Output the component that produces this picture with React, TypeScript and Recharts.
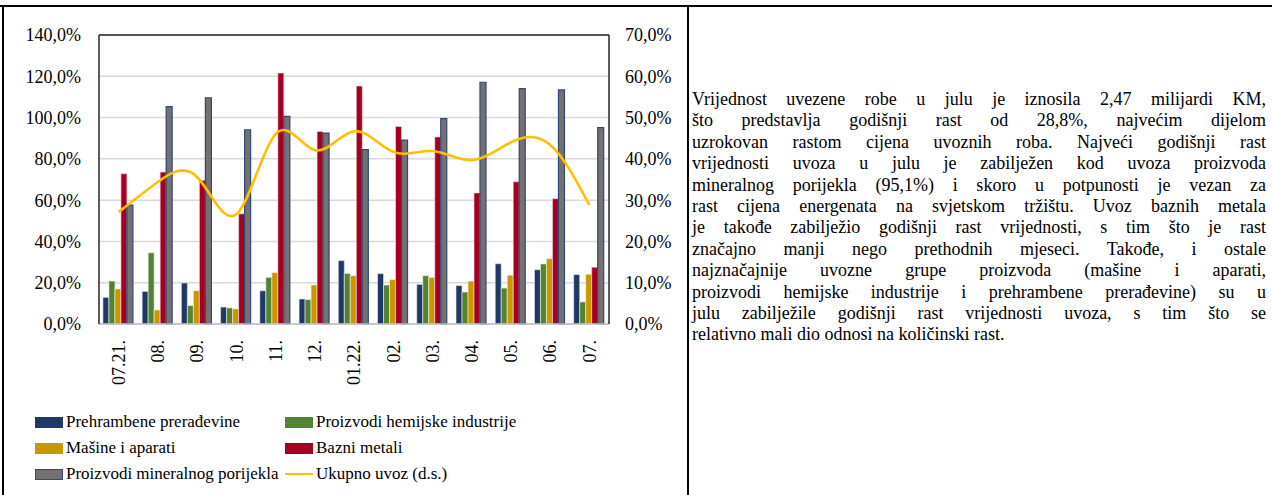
import React from "react";
import {
  ComposedChart,
  Bar,
  Line,
  XAxis,
  YAxis,
  CartesianGrid,
  ReferenceLine,
} from "recharts";

const months = ["07.21.", "08.", "09.", "10.", "11.", "12.", "01.22.", "02.", "03.", "04.", "05.", "06.", "07."];

const prehrambene = [12.9, 15.8, 19.9, 8.2, 16.1, 12.1, 30.7, 24.4, 19.2, 18.6, 29.2, 26.3, 23.9];
const hemijske = [20.8, 34.5, 8.9, 7.8, 22.6, 11.8, 24.5, 18.9, 23.4, 15.5, 17.4, 29.1, 10.7];
const masine = [17.0, 6.8, 16.1, 7.3, 24.9, 18.9, 23.4, 21.5, 22.6, 20.8, 23.6, 31.6, 24.1];
const bazniMetali = [72.8, 73.6, 69.6, 53.4, 121.6, 93.3, 115.3, 95.7, 90.6, 63.5, 68.9, 60.7, 27.5];
const mineralni = [57.6, 105.3, 109.6, 94.1, 100.6, 92.5, 84.5, 89.1, 99.5, 117.1, 114.0, 113.4, 95.1];
const ukupno = [27.1, 34.4, 35.6, 26.6, 46.0, 42.1, 46.7, 41.7, 41.9, 39.7, 44.0, 43.4, 28.8];

const leftTicks = [0, 20, 40, 60, 80, 100, 120, 140];
const rightTicks = [0, 10, 20, 30, 40, 50, 60, 70];

const barSeries = [
  { key: "preh", name: "Prehrambene prerađevine", color: "#203864", stroke: "#e8ecf2" },
  { key: "hem", name: "Proizvodi hemijske industrije", color: "#548235", stroke: "#edf2e8" },
  { key: "mas", name: "Mašine i aparati", color: "#C99700", stroke: "#f7f0dc" },
  { key: "baz", name: "Bazni metali", color: "#A50021", stroke: "#f5e0e5" },
  { key: "min", name: "Proizvodi mineralnog porijekla", color: "#767171", stroke: "#2F4A7A" },
];
const lineSeries = { key: "uk", name: "Ukupno uvoz (d.s.)", color: "#FFC000" };

const legendOrder = ["preh", "hem", "mas", "baz", "min", "uk"];

const paragraph = [
  "Vrijednost uvezene robe u julu je iznosila 2,47 milijardi KM,",
  "što predstavlja godišnji rast od 28,8%, najvećim dijelom",
  "uzrokovan rastom cijena uvoznih roba. Najveći godišnji rast",
  "vrijednosti uvoza u julu je zabilježen kod uvoza proizvoda",
  "mineralnog porijekla (95,1%) i skoro u potpunosti je vezan za",
  "rast cijena energenata na svjetskom tržištu. Uvoz baznih metala",
  "je takođe zabilježio godišnji rast vrijednosti, s tim što je rast",
  "značajno manji nego prethodnih mjeseci. Takođe, i ostale",
  "najznačajnije uvozne grupe proizvoda (mašine i aparati,",
  "proizvodi hemijske industrije i prehrambene prerađevine) su u",
  "julu zabilježile godišnji rast vrijednosti uvoza, s tim što se",
  "relativno mali dio odnosi na količinski rast.",
];

const data = months.map((m, i) => ({
  m,
  preh: prehrambene[i],
  hem: hemijske[i],
  mas: masine[i],
  baz: bazniMetali[i],
  min: mineralni[i],
  uk: ukupno[i],
}));

const FONT = '"Liberation Serif", "Times New Roman", serif';
const pct = (v: number) => v.toFixed(1).replace(".", ",") + "%";

function MonthTick(props: any) {
  const { x, y, payload } = props;
  return (
    <text
      x={x}
      y={y + 8}
      dy="0.35em"
      transform={`rotate(-90 ${x} ${y + 8})`}
      textAnchor="end"
      fontFamily={FONT}
      fontSize={18}
      fill="#000"
    >
      {payload.value}
    </text>
  );
}

function LegendBox() {
  const all = [...barSeries, { ...lineSeries, stroke: "" }];
  return (
    <div style={{ position: "absolute", left: 35, top: 410, width: 640, fontSize: 17 }}>
      {legendOrder.map((k, i) => {
        const s = all.find((a) => a.key === k)!;
        const col = i % 2;
        const row = Math.floor(i / 2);
        return (
          <div
            key={k}
            style={{
              position: "absolute",
              left: col * 250,
              top: row * 26,
              display: "flex",
              alignItems: "center",
              whiteSpace: "nowrap",
              height: 24,
            }}
          >
            {k === "uk" ? (
              <span style={{ display: "inline-block", width: 28, height: 2.5, background: s.color, marginRight: 3 }} />
            ) : (
              <span
                style={{
                  display: "inline-block",
                  width: 26,
                  height: 9,
                  background: s.color,
                  border: k === "min" ? "1px solid #2F4A7A" : "1px solid " + s.color,
                  marginRight: 3,
                }}
              />
            )}
            <span>{s.name}</span>
          </div>
        );
      })}
    </div>
  );
}

export default function App() {
  return (
    <div
      style={{
        position: "absolute",
        left: 0,
        top: 0,
        width: 1272,
        height: 495,
        background: "#fff",
        overflow: "hidden",
        fontFamily: FONT,
      }}
    >
      <div style={{ position: "absolute", left: 0, top: 5, width: 1272, height: 2, background: "#000" }} />
      <div style={{ position: "absolute", left: 2, top: 5, width: 2, height: 490, background: "#000" }} />
      <div style={{ position: "absolute", left: 687, top: 5, width: 2, height: 490, background: "#000" }} />

      <div style={{ position: "absolute", left: 0, top: 0 }}>
        <ComposedChart
          width={688}
          height={495}
          data={data}
          margin={{ top: 35, right: 19, left: 10, bottom: 111 }}
          barCategoryGap="10%"
          barGap={0}
        >
          <CartesianGrid yAxisId="left" vertical={false} stroke="#D9D9D9" strokeWidth={1.5} />
          <XAxis
            dataKey="m"
            interval={0}
            height={60}
            tickLine={false}
            axisLine={{ stroke: "#BFBFBF", strokeWidth: 1.5 }}
            tick={<MonthTick />}
          />
          <YAxis
            yAxisId="left"
            domain={[0, 140]}
            ticks={leftTicks}
            tickFormatter={pct}
            width={89}
            tickSize={0}
            tickMargin={18}
            tickLine={false}
            axisLine={{ stroke: "#262626", strokeWidth: 1.5 }}
            tick={{ fill: "#000", fontSize: 18, fontFamily: FONT }}
          />
          <YAxis
            yAxisId="right"
            orientation="right"
            domain={[0, 70]}
            ticks={rightTicks}
            tickFormatter={pct}
            width={60}
            tickSize={0}
            tickMargin={16}
            tickLine={false}
            axisLine={{ stroke: "#262626", strokeWidth: 1.5 }}
            tick={{ fill: "#000", fontSize: 18, fontFamily: FONT, textAnchor: "start" }}
          />
          <ReferenceLine yAxisId="left" y={140} stroke="#262626" strokeWidth={1.5} />
          {barSeries.map((s) => (
            <Bar
              key={s.key}
              yAxisId="left"
              dataKey={s.key}
              name={s.name}
              fill={s.color}
              stroke={s.stroke}
              strokeWidth={s.key === "min" ? 1.2 : 0.6}
              isAnimationActive={false}
            />
          ))}
          <Line
            yAxisId="right"
            dataKey={lineSeries.key}
            name={lineSeries.name}
            type="natural"
            stroke={lineSeries.color}
            strokeWidth={2.6}
            dot={false}
            activeDot={false}
            isAnimationActive={false}
          />
        </ComposedChart>
      </div>

      <LegendBox />

      <div style={{ position: "absolute", left: 692, top: 89, width: 574, fontSize: 18, lineHeight: "21.4px", color: "#000" }}>
        {paragraph.map((line, i) => (
          <div
            key={i}
            style={{
              textAlign: "justify",
              textAlignLast: i === paragraph.length - 1 ? "left" : "justify",
              whiteSpace: "nowrap",
            }}
          >
            {line}
          </div>
        ))}
      </div>
    </div>
  );
}
